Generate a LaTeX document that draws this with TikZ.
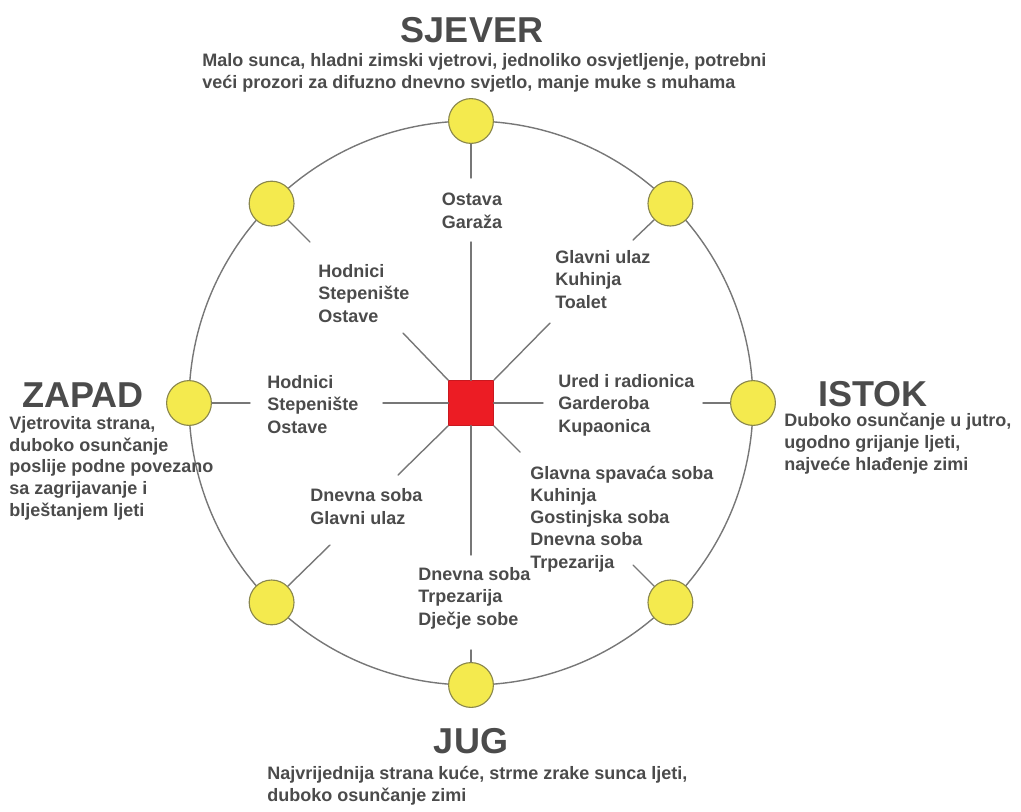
\documentclass[tikz,border=0pt]{standalone}
\usepackage{fontspec}
\setmainfont{Liberation Sans}
\usepackage{xcolor}
\usepackage{tikz}
\usetikzlibrary{calc}
\definecolor{ink}{HTML}{4B4B4B}
\definecolor{wire}{HTML}{777777}
\definecolor{sunfill}{HTML}{F4EA4E}
\definecolor{sunedge}{HTML}{8A874C}
\definecolor{core}{HTML}{EC1C24}
\tikzset{
  ring/.style={draw=wire, line width=1pt},
  spoke/.style={draw=wire, line width=1pt, line cap=round},
  sun/.style={circle, fill=sunfill, draw=sunedge, line width=0.8pt, minimum size=1.12cm, inner sep=0pt},
  house/.style={rectangle, fill=core, draw=core!85!black, line width=0.5pt, minimum size=1.12cm, inner sep=0pt},
  head/.style={text=ink, font=\bfseries\fontsize{25.6}{28}\selectfont, inner sep=0pt},
  room/.style={text=ink, font=\bfseries\fontsize{12.8}{15.8}\selectfont, align=left, anchor=base west, inner sep=0pt},
  note/.style={text=ink, font=\bfseries\fontsize{12.8}{15.3}\selectfont, align=left, anchor=base west, inner sep=0pt},
}

\begin{document}
\begin{tikzpicture}[x=0.025cm, y=-0.025cm]
  \useasboundingbox (0,0) rectangle (1021,811);
  \coordinate (C) at (471,403);
  \draw[ring] (C) circle (282);
  % suns round the ring
  \foreach \n/\a in {N/90,NE/45,E/0,SE/-45,S/-90,SW/-135,W/180,NW/135}
    \node[sun] (s\n) at ({471+282*cos(\a)},{403-282*sin(\a)}) {};
  \node[house] (home) at (C) {};
  % free ends of the spokes
  \coordinate (oN) at (471,178);  \coordinate (iN) at (471,242);
  \coordinate (oNE) at (633,240); \coordinate (iNE) at (550,323);
  \coordinate (oE) at (703,403);  \coordinate (iE) at (543,403);
  \coordinate (oSE) at (633,565); \coordinate (iSE) at (520,452);
  \coordinate (oS) at (471,650);  \coordinate (iS) at (471,555);
  \coordinate (oSW) at (330,545); \coordinate (iSW) at (398,475);
  \coordinate (oW) at (250,403);  \coordinate (iW) at (383,403);
  \coordinate (oNW) at (310,242); \coordinate (iNW) at (403,333);
  \foreach \s/\o in {sN.south/oN,sNE.225/oNE,sE.west/oE,sSE.135/oSE,
                     sS.north/oS,sSW.45/oSW,sW.east/oW,sNW.315/oNW}
    \draw[spoke] (\s) -- (\o);
  \foreach \h/\i in {north/iN,north east/iNE,east/iE,south east/iSE,
                     south/iS,south west/iSW,west/iW,north west/iNW}
    \draw[spoke] (home.\h) -- (\i);
  % rooms (placed by the baseline of their last line)
  \node[room, anchor=base] (rN) at (472,228) {Ostava\\Garaža};
  \node[room] (rNE) at (555,308) {Glavni ulaz\\Kuhinja\\Toalet};
  \node[room] (rE) at (558,432) {Ured i radionica\\Garderoba\\Kupaonica};
  \node[room] (rSE) at (530,568) {Glavna spavaća soba\\Kuhinja\\Gostinjska soba\\Dnevna soba\\Trpezarija};
  \node[room] (rS) at (418,625) {Dnevna soba\\Trpezarija\\Dječje sobe};
  \node[room] (rSW) at (310,524) {Dnevna soba\\Glavni ulaz};
  \node[room] (rW) at (267,433) {Hodnici\\Stepenište\\Ostave};
  \node[room] (rNW) at (318,322) {Hodnici\\Stepenište\\Ostave};
  % sides
  \node[head, anchor=base] (hN) at (472,42) {SJEVER};
  \node[note] (dN) at (202,88) {Malo sunca, hladni zimski vjetrovi, jednoliko osvjetljenje, potrebni\\veći prozori za difuzno dnevno svjetlo, manje muke s muhama};
  \node[head, anchor=base west] (hE) at (818,406) {ISTOK};
  \node[note] (dE) at (784,470) {Duboko osunčanje u jutro,\\ugodno grijanje ljeti,\\najveće hlađenje zimi};
  \node[head, anchor=base] (hS) at (471,753) {JUG};
  \node[note] (dS) at (267,801) {Najvrijednija strana kuće, strme zrake sunca ljeti,\\duboko osunčanje zimi};
  \node[head, anchor=base west] (hW) at (22,407) {ZAPAD};
  \node[note] (dW) at (9,516) {Vjetrovita strana,\\duboko osunčanje\\poslije podne povezano\\sa zagrijavanje i\\blještanjem ljeti};
\end{tikzpicture}
\end{document}
